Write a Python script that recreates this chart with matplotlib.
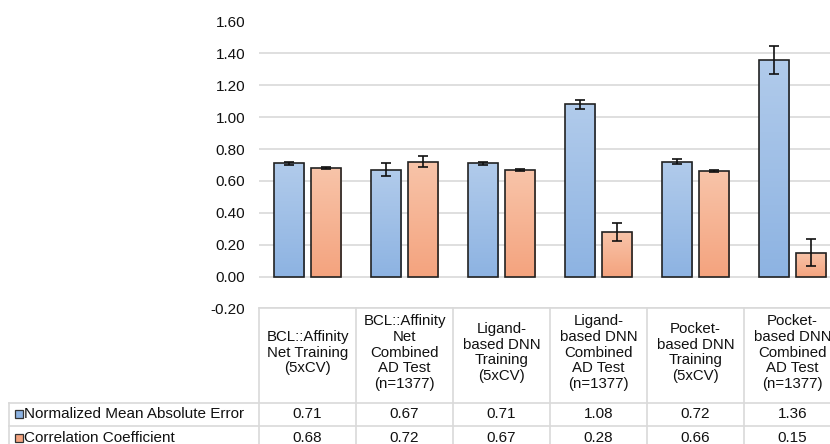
import matplotlib
matplotlib.use("Agg")
import matplotlib.pyplot as plt
import matplotlib.transforms as mtransforms
from matplotlib.colors import LinearSegmentedColormap
import numpy as np

plt.rcParams['font.family'] = ['Liberation Sans', 'DejaVu Sans']

categories = [
    "BCL::Affinity\nNet Training\n(5xCV)",
    "BCL::Affinity\nNet\nCombined\nAD Test\n(n=1377)",
    "Ligand-\nbased DNN\nTraining\n(5xCV)",
    "Ligand-\nbased DNN\nCombined\nAD Test\n(n=1377)",
    "Pocket-\nbased DNN\nTraining\n(5xCV)",
    "Pocket-\nbased DNN\nCombined\nAD Test\n(n=1377)",
]
series_names = ["Normalized Mean Absolute Error", "Correlation Coefficient"]
nmae = [0.71, 0.67, 0.71, 1.08, 0.72, 1.36]
nmae_err = [0.010, 0.040, 0.008, 0.030, 0.015, 0.088]
corr = [0.68, 0.72, 0.67, 0.28, 0.66, 0.15]
corr_err = [0.006, 0.035, 0.007, 0.058, 0.007, 0.083]
yticks = [-0.20, 0.00, 0.20, 0.40, 0.60, 0.80, 1.00, 1.20, 1.40, 1.60]

W, H = 830, 444
fig = plt.figure(figsize=(W / 100, H / 100), dpi=100)
ax = fig.add_axes([259 / W, 1 - 308.4 / H, 582 / W, 286.9 / H])

n = len(categories)
x = np.arange(n)
bw = 0.31
off = 0.19
txt = '#111111'

grad_sets = [
    ("#b1cbeb", "#8db3e2"),
    ("#f8c4a9", "#f4a37e"),
]

ax.set_xlim(-0.5, n - 0.5)
ax.set_ylim(yticks[0], yticks[-1])
ax.set_yticks(yticks)
ax.set_yticklabels([f"{v:.2f}" for v in yticks], fontsize=11, color=txt)
ax.tick_params(axis='y', length=0, pad=10)
ax.set_xticks([])
for s in ax.spines.values():
    s.set_visible(False)
ax.grid(axis='y', color='#d9d9d9', linewidth=1.2)
ax.set_axisbelow(True)

for vals, errs, sign, (ctop, cbot) in [(nmae, nmae_err, -1, grad_sets[0]), (corr, corr_err, 1, grad_sets[1])]:
    bars = ax.bar(x + sign * off, vals, bw, color='none', edgecolor='#222222', linewidth=1.2, zorder=3)
    cmap = LinearSegmentedColormap.from_list('g', [cbot, ctop])
    grad = np.linspace(0, 1, 256).reshape(-1, 1)
    for b in bars:
        x0, y0 = b.get_x(), b.get_y()
        im = ax.imshow(grad, cmap=cmap, aspect='auto', origin='lower',
                       extent=(x0, x0 + b.get_width(), y0, y0 + b.get_height()), zorder=2.5)
        im.set_clip_path(b)
    ax.errorbar(x + sign * off, vals, yerr=errs, fmt='none', ecolor='#111111',
                elinewidth=1.2, capsize=3.3, capthick=1.2, zorder=4)
ax.set_xlim(-0.5, n - 0.5)
ax.set_ylim(yticks[0], yticks[-1])

# data table below the plot
tr = mtransforms.blended_transform_factory(ax.transData, ax.transAxes)
lc = '#d9d9d9'
lw = 1.2
y_top = 0.0
y_head = -(402.5 - 308.4) / 286.9
y_r1 = -(426 - 308.4) / 286.9
y_r2 = -(450 - 308.4) / 286.9
x_lab = -0.5 - 250 / 97

kw = dict(transform=tr, color=lc, linewidth=lw, clip_on=False)
ax.plot([-0.5, n - 0.5], [y_top, y_top], **kw)
for yy in [y_head, y_r1, y_r2]:
    ax.plot([x_lab, n - 0.5], [yy, yy], **kw)
for i in range(n + 1):
    ax.plot([i - 0.5, i - 0.5], [y_top, y_r2], **kw)
ax.plot([x_lab, x_lab], [y_head, y_r2], **kw)

for i, c in enumerate(categories):
    ax.text(i, (y_top + y_head) / 2 + 0.01, c, transform=tr, ha='center', va='center',
            fontsize=10.8, linespacing=1.15, color=txt, clip_on=False)

row_colors = ["#8db3e2", "#f4a37e"]
rows = [nmae, corr]
row_tops = [y_head, y_r1]
row_bots = [y_r1, y_r2]
for r in range(2):
    yc = (row_tops[r] + row_bots[r]) / 2
    ax.plot([x_lab + 0.1], [yc], marker='s', markersize=6, markerfacecolor=row_colors[r],
            markeredgecolor='#333333', markeredgewidth=0.9, transform=tr, clip_on=False)
    ax.text(x_lab + 0.15, yc, series_names[r], transform=tr, ha='left', va='center',
            fontsize=11, color=txt, clip_on=False)
    for i, v in enumerate(rows[r]):
        ax.text(i, yc, f"{v:.2f}", transform=tr, ha='center', va='center',
                fontsize=11, color=txt, clip_on=False)

fig.savefig("out.png", dpi=100)
